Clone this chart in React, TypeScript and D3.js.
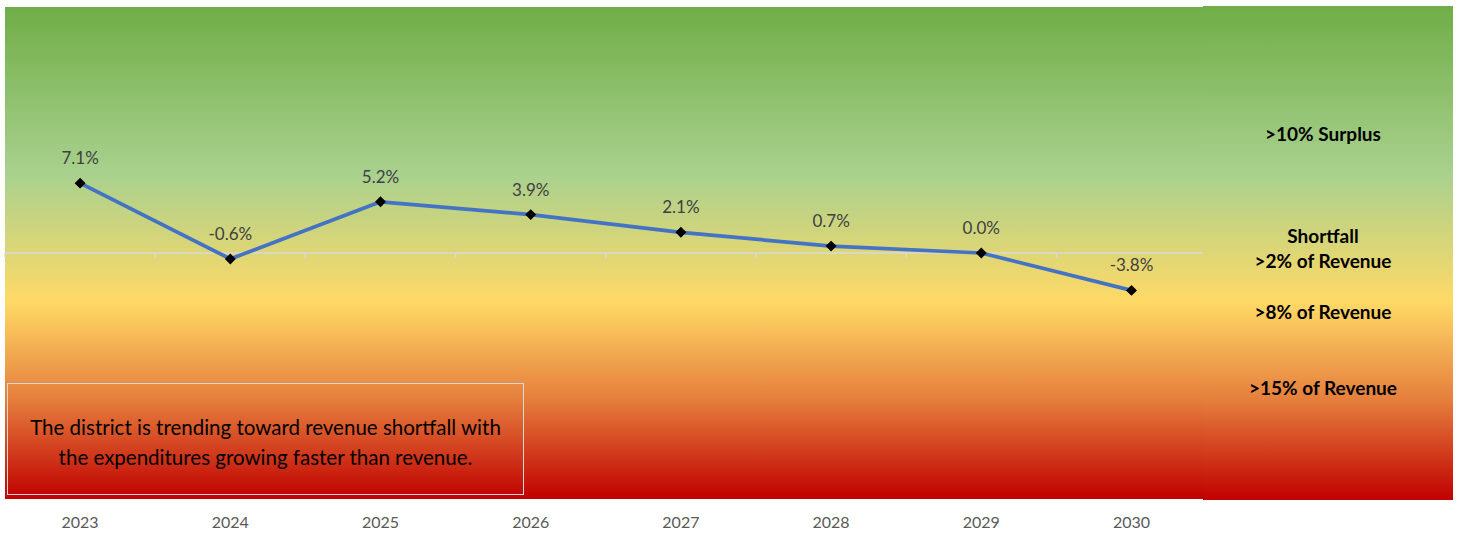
import React from "react";
import * as d3 from "d3";

const years = ["2023", "2024", "2025", "2026", "2027", "2028", "2029", "2030"];
const balances = [7.1, -0.6, 5.2, 3.9, 2.1, 0.7, 0.0, -3.8];
const bandLabels = [
  { text: ">10% Surplus", y: 141 },
  { text: "Shortfall", y: 243 },
  { text: ">2% of Revenue", y: 268 },
  { text: ">8% of Revenue", y: 319 },
  { text: ">15% of Revenue", y: 395 },
];
const noteLines = [
  "The district is trending toward revenue shortfall with",
  "the expenditures growing faster than revenue.",
];
const gradientStops = [
  { offset: 0, color: "#70AD47" },
  { offset: 0.34, color: "#A9D18E" },
  { offset: 0.6, color: "#FFD966" },
  { offset: 0.8, color: "#E57D3C" },
  { offset: 1, color: "#C00000" },
];

const W = 1459;
const H = 536;
const plot = { left: 5, right: 1203, top: 7, bottom: 499 };
const panel = { left: 1203, right: 1453, top: 6, bottom: 500 };

export default function App() {
  const x = d3.scaleBand<string>().domain(years).range([5, 1206.6]).padding(0);
  const y = d3.scaleLinear().domain([-25, 25]).range([plot.bottom, plot.top]);
  const cx = (yr: string) => (x(yr) as number) + x.bandwidth() / 2;
  const pts = years.map((yr, i) => ({ yr, v: balances[i] }));
  const line = d3
    .line<{ yr: string; v: number }>()
    .x((d) => cx(d.yr))
    .y((d) => y(d.v));
  const diamond = d3.symbol(d3.symbolSquare, 60)();
  const fmt = (v: number) => v.toFixed(1) + "%";
  const y0 = y(0);
  const tickXs = years.map((yr) => x(yr) as number);

  return (
    <svg
      width={W}
      height={H}
      style={{ position: "absolute", left: 0, top: 0, background: "#fff" }}
    >
      <defs>
        <linearGradient id="bg" x1="0" y1="0" x2="0" y2="1">
          {gradientStops.map((s) => (
            <stop key={s.offset} offset={s.offset} stopColor={s.color} />
          ))}
        </linearGradient>
      </defs>
      <rect
        x={panel.left}
        y={panel.top}
        width={panel.right - panel.left}
        height={panel.bottom - panel.top}
        fill="url(#bg)"
      />
      <rect
        x={plot.left}
        y={plot.top}
        width={plot.right - plot.left}
        height={plot.bottom - plot.top}
        fill="url(#bg)"
      />
      {/* zero axis line */}
      <line x1={plot.left} x2={plot.right} y1={y0} y2={y0} stroke="#D9D9D9" strokeWidth={1.5} />
      {tickXs.map((tx, i) => (
        <line key={i} x1={tx} x2={tx} y1={y0} y2={y0 + 5} stroke="#D9D9D9" strokeWidth={1.5} />
      ))}
      {/* series line */}
      <path d={line(pts) || ""} fill="none" stroke="#4472C4" strokeWidth={3.75} strokeLinejoin="round" />
      {pts.map((d) => (
        <path
          key={d.yr}
          d={diamond || ""}
          transform={`translate(${cx(d.yr)},${y(d.v)}) rotate(45)`}
          fill="#000"
        />
      ))}
      {pts.map((d) => (
        <text
          key={"l" + d.yr}
          x={cx(d.yr)}
          y={y(d.v) - 19}
          textAnchor="middle"
          fontFamily="Lato, sans-serif"
          fontSize={17}
          fill="#404040"
        >
          {fmt(d.v)}
        </text>
      ))}
      {/* category axis labels */}
      {years.map((yr) => (
        <text
          key={"x" + yr}
          x={cx(yr)}
          y={528}
          textAnchor="middle"
          fontFamily="Lato, sans-serif"
          fontSize={16}
          fill="#595959"
        >
          {yr}
        </text>
      ))}
      {/* band labels */}
      {bandLabels.map((b) => (
        <text
          key={b.text}
          x={1323}
          y={b.y}
          textAnchor="middle"
          fontFamily="Lato, sans-serif"
          fontWeight="bold"
          fontSize={19}
          fill="#000"
        >
          {b.text}
        </text>
      ))}
      {/* annotation box */}
      <rect x={7.5} y={383.5} width={516} height={111} fill="none" stroke="#D9D9D9" strokeWidth={1} />
      {noteLines.map((t, i) => (
        <text
          key={i}
          x={265.5}
          y={435 + i * 30}
          textAnchor="middle"
          fontFamily="Lato, sans-serif"
          fontSize={20.5}
          fill="#000"
        >
          {t}
        </text>
      ))}
    </svg>
  );
}
